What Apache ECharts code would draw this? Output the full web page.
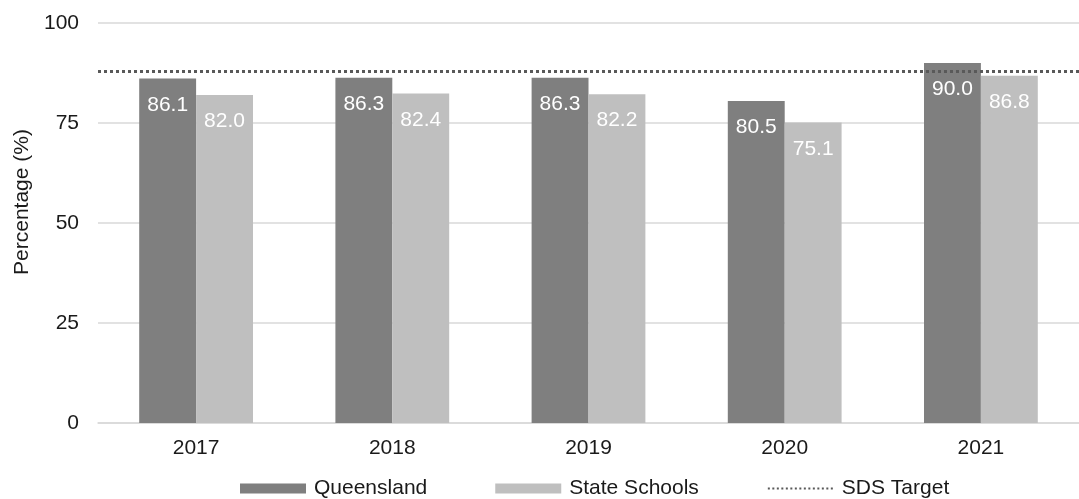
<!DOCTYPE html>
<html><head><meta charset="utf-8">
<script src="https://cdn.jsdelivr.net/npm/echarts@6/dist/echarts.min.js"></script>
<style>html,body{margin:0;padding:0;background:#fff}#c{width:1079px;height:499px}</style>
</head><body><div id="c"></div>
<script>
const categories = ['2017','2018','2019','2020','2021'];
const queensland = [86.1, 86.3, 86.3, 80.5, 90.0];
const stateSchools = [82.0, 82.4, 82.2, 75.1, 86.8];
const sdsTarget = 88;
const yTicks = [0, 25, 50, 75, 100];

const FONT = '"Liberation Sans", Arial, sans-serif';
const FS = 21;
const chart = echarts.init(document.getElementById('c'), null, {renderer:'canvas'});
const barLabel = {
  show: true, position: 'insideTop', distance: 16, color: '#fff',
  fontSize: FS, fontFamily: FONT, formatter: p => p.value.toFixed(1)
};
chart.setOption({
  animation: false,
  textStyle: {fontFamily: FONT},
  grid: {left: 98, right: 0, top: 23, bottom: 76},
  legend: {
    left: 235, top: 473, itemWidth: 66, itemHeight: 10, itemGap: 68,
    textStyle: {fontSize: FS, color: '#1a1a1a', fontFamily: FONT, padding: [0, 0, 0, 3]},
    data: [{name: 'Queensland', icon: 'rect'}, {name: 'State Schools', icon: 'rect'},
      {name: 'SDS Target', itemStyle: {color: 'rgba(0,0,0,0)', borderColor: 'rgba(0,0,0,0)', borderWidth: 0, opacity: 0}}]
  },
  xAxis: {
    type: 'category', data: categories,
    axisLine: {lineStyle: {color: '#d9d9d9', width: 1.5}},
    axisTick: {show: false},
    axisLabel: {fontSize: FS, color: '#1a1a1a', margin: 15, fontFamily: FONT}
  },
  yAxis: {
    type: 'value', min: yTicks[0], max: yTicks[yTicks.length-1], interval: 25,
    name: 'Percentage (%)', nameLocation: 'middle', nameGap: 60, nameRotate: 90,
    nameTextStyle: {fontSize: FS, color: '#1a1a1a', fontFamily: FONT, padding: [0, 0, 0, 42]},
    axisLine: {show: false}, axisTick: {show: false},
    axisLabel: {fontSize: FS, color: '#1a1a1a', margin: 19, fontFamily: FONT},
    splitLine: {lineStyle: {color: '#d9d9d9', width: 1.5}}
  },
  series: [
    {name: 'Queensland', type: 'bar', data: queensland, barWidth: '29%', barGap: '0%',
     itemStyle: {color: '#7f7f7f'}, label: barLabel},
    {name: 'State Schools', type: 'bar', data: stateSchools, barWidth: '29%', barGap: '0%',
     itemStyle: {color: '#bfbfbf'}, label: barLabel},
    {name: 'SDS Target', type: 'line', data: [], symbol: 'none',
     itemStyle: {color: '#595959'},
     lineStyle: {color: '#595959', width: 2, type: [2, 2.5]},
     markLine: {silent: true, symbol: 'none', label: {show: false},
       lineStyle: {color: '#595959', width: 3, type: [3, 3]},
       data: [{yAxis: sdsTarget}]}}
  ]
});
</script></body></html>
